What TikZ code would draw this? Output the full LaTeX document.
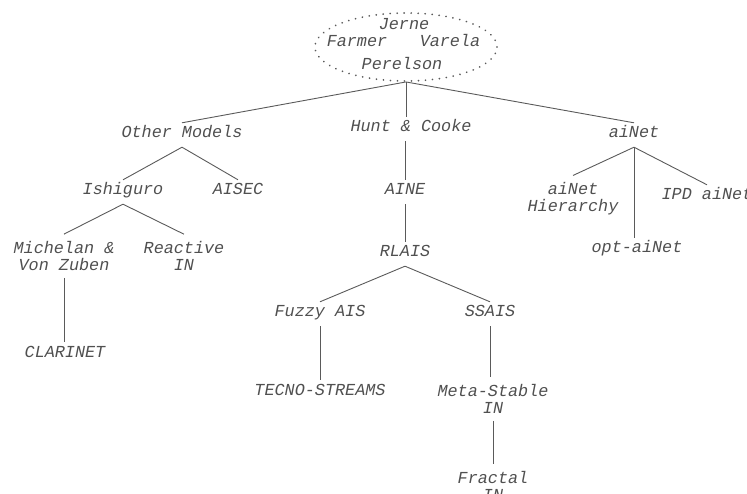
\documentclass[tikz,border=0pt]{standalone}
\usepackage{fontspec}
\setmonofont{Liberation Mono}
\usetikzlibrary{shapes.geometric}
\definecolor{inkgray}{HTML}{505050}
\definecolor{linegray}{HTML}{5A5A5A}
\tikzset{
  model/.style={font=\ttfamily\itshape\fontsize{16.8}{17}\selectfont, text=inkgray,
    inner xsep=0pt, inner ysep=7pt, text height=8pt, text depth=2pt},
  model2/.style={font=\ttfamily\itshape\fontsize{16.8}{17}\selectfont, text=inkgray,
    align=center, inner xsep=0pt, inner ysep=7pt},
  link/.style={draw=linegray, line width=0.9pt},
}

\begin{document}
\begin{tikzpicture}[x=1pt, y=-1pt]
\useasboundingbox (0,0) rectangle (747,494);

% founders
\node[draw=linegray, ellipse, line width=1.9pt, line cap=round,
      dash pattern=on 0.01pt off 7pt, minimum width=182, minimum height=68] (root) at (406,47) {};
\node[model, inner ysep=0pt] (jerne) at (404,27) {Jerne};
\node[model, inner ysep=0pt] (farmer) at (357,44) {Farmer};
\node[model, inner ysep=0pt] (varela) at (450,44) {Varela};
\node[model, inner ysep=0pt] (perelson) at (402,67) {Perelson};

% first level
\node[model] (other) at (182,135) {Other Models};
\node[model] (hunt) at (411,129) {Hunt \& Cooke};
\node[model] (ainet) at (634,135) {aiNet};

\node[model] (ishiguro) at (123,192) {Ishiguro};
\node[model] (aisec) at (238,192) {AISEC};
\node[model2] (michelan) at (64,256) {Michelan \&\\Von Zuben};
\node[model2] (reactive) at (184,256) {Reactive\\IN};
\node[model] (clarinet) at (65,354) {CLARINET};

\node[model] (aine) at (405,192) {AINE};
\node[model] (rlais) at (405,254) {RLAIS};
\node[model] (fuzzy) at (320,314) {Fuzzy AIS};
\node[model] (ssais) at (490,314) {SSAIS};
\node[model] (tecno) at (320,392) {TECNO-STREAMS};
\node[model2] (meta) at (493,399) {Meta-Stable\\IN};
\node[model2] (fractal) at (493,486) {Fractal\\IN};

\node[model2] (hier) at (573,199) {aiNet\\Hierarchy};
\node[model] (ipd) at (707,197) {IPD aiNet};
\node[model] (opt) at (637,250) {opt-aiNet};

% tree
\draw[link] (root.south) -- (other.north);
\draw[link] (root.south) -- (root.south |- hunt.north);
\draw[link] (root.south) -- (ainet.north);

\draw[link] (other.south) -- (ishiguro.north);
\draw[link] (other.south) -- (aisec.north);
\draw[link] (ishiguro.south) -- (michelan.north);
\draw[link] (ishiguro.south) -- (reactive.north);
\draw[link] (michelan.south) -- (michelan.south |- clarinet.north);

\draw[link] (aine.north |- hunt.south) -- (aine.north);
\draw[link] (aine.south) -- (rlais.north);
\draw[link] (rlais.south) -- (fuzzy.north);
\draw[link] (rlais.south) -- (ssais.north);
\draw[link] (fuzzy.south) -- (tecno.north);
\draw[link] (ssais.south) -- (ssais.south |- meta.north);
\draw[link] (meta.south) -- (fractal.north);

\draw[link] (ainet.south) -- (hier.north);
\draw[link] (ainet.south) -- (ipd.north);
\draw[link] (ainet.south) -- (ainet.south |- opt.north);
\end{tikzpicture}
\end{document}
